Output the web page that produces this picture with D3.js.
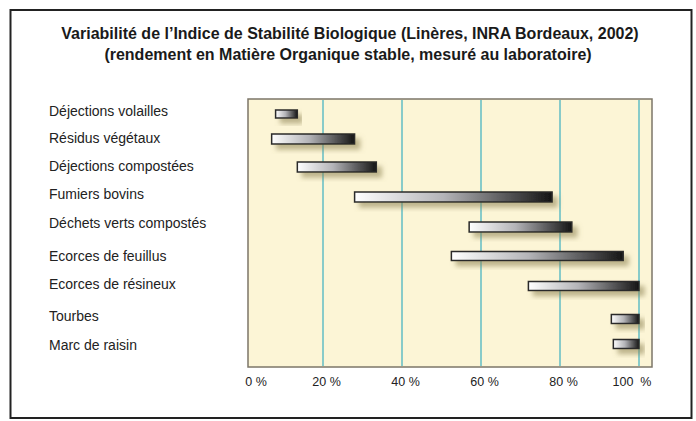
<!DOCTYPE html>
<html>
<head>
<meta charset="utf-8">
<script src="https://cdn.jsdelivr.net/npm/d3@7"></script>
<style>
  body { margin: 0; background: #fff; }
  svg { display: block; font-family: "Liberation Sans", Arial, sans-serif; }
</style>
</head>
<body>
<svg id="chart" width="696" height="421"></svg>
<script>
var categories = ["Déjections volailles", "Résidus végétaux", "Déjections compostées", "Fumiers bovins",
    "Déchets verts compostés", "Ecorces de feuillus", "Ecorces de résineux", "Tourbes", "Marc de raisin"];
var minValues = [8, 7, 13.5, 28, 57, 52.5, 72, 93, 93.5];
var maxValues = [13.5, 28, 33.5, 78, 83, 96, 100, 100, 100];
var tickValues = [0, 20, 40, 60, 80, 100];
var titleLines = ["Variabilité de l’Indice de Stabilité Biologique (Linères, INRA Bordeaux, 2002)",
    "(rendement en Matière Organique stable, mesuré au laboratoire)"];

var svg = d3.select("#chart");
var defs = svg.append("defs");

var grad = defs.append("linearGradient").attr("id", "barGrad")
    .attr("x1", "0%").attr("x2", "100%").attr("y1", "0%").attr("y2", "0%");
grad.append("stop").attr("offset", "0%").attr("stop-color", "#ffffff");
grad.append("stop").attr("offset", "45%").attr("stop-color", "#b4b4b8");
grad.append("stop").attr("offset", "100%").attr("stop-color", "#141414");

var shadow = defs.append("filter").attr("id", "shadow")
    .attr("x", "-10%").attr("y", "-50%").attr("width", "130%").attr("height", "250%");
shadow.append("feDropShadow").attr("dx", 5).attr("dy", 5).attr("stdDeviation", 2.5)
    .attr("flood-color", "#8a8050").attr("flood-opacity", 0.55);

// outer frame
svg.append("rect").attr("x", 10.5).attr("y", 10).attr("width", 681).attr("height", 408)
    .attr("fill", "#fff").attr("stroke", "#222").attr("stroke-width", 2);

svg.selectAll(".title").data(titleLines).enter().append("text")
    .attr("x", function (d, i) { return i === 0 ? 350 : 348; })
    .attr("y", function (d, i) { return 39 + i * 21; })
    .attr("text-anchor", "middle").attr("font-size", 16)
    .attr("font-weight", "bold")
    .attr("fill", "#1a1a1a").text(function (d) { return d; });

var x = d3.scaleLinear().domain([0, 100]).range([244, 639]);
var rowCenters = [114, 139, 167, 197, 227, 256, 286, 319, 344];
var labelY = [111, 138, 166, 194, 223, 256, 284, 316, 345];

// plot area
svg.append("rect").attr("x", 248).attr("y", 99).attr("width", 404).attr("height", 268)
    .attr("fill", "#fcf5d6").attr("stroke", "#7c7668").attr("stroke-width", 1.5);

svg.selectAll(".grid").data(tickValues.slice(1)).enter().append("line")
    .attr("x1", function (d) { return x(d); }).attr("x2", function (d) { return x(d); })
    .attr("y1", 100).attr("y2", 366)
    .attr("stroke", "#62bcc4").attr("stroke-width", 1.5);

var axis = d3.axisBottom(x).tickValues(tickValues).tickSize(0)
    .tickFormat(function (d) { return d === 100 ? "100  %" : d + " %"; });
var gAxis = svg.append("g").attr("transform", "translate(3,374)").call(axis);
gAxis.select(".domain").remove();
gAxis.selectAll("text").attr("font-size", 12.5).attr("fill", "#222")
    .attr("font-family", "'Liberation Sans', Arial, sans-serif").style("white-space", "pre");
gAxis.selectAll(".tick").filter(function (d) { return d === 0; }).attr("transform", "translate(253,0)");
gAxis.selectAll(".tick").filter(function (d) { return d === 100; }).attr("transform", "translate(629,0)");

svg.selectAll(".label").data(categories).enter().append("text")
    .attr("x", 49).attr("y", function (d, i) { return labelY[i] + 5; })
    .attr("font-size", 14).attr("fill", "#222").text(function (d) { return d; });

var heights = [8, 10, 10, 10, 10, 9, 9, 9, 9];
svg.selectAll(".bar").data(categories).enter().append("rect")
    .attr("x", function (d, i) { return x(minValues[i]); })
    .attr("width", function (d, i) { return x(maxValues[i]) - x(minValues[i]); })
    .attr("y", function (d, i) { return rowCenters[i] - heights[i] / 2; })
    .attr("height", function (d, i) { return heights[i]; })
    .attr("fill", "url(#barGrad)").attr("stroke", "#2a2a2a").attr("stroke-width", 1.5)
    .attr("filter", "url(#shadow)");
</script>
</body>
</html>
